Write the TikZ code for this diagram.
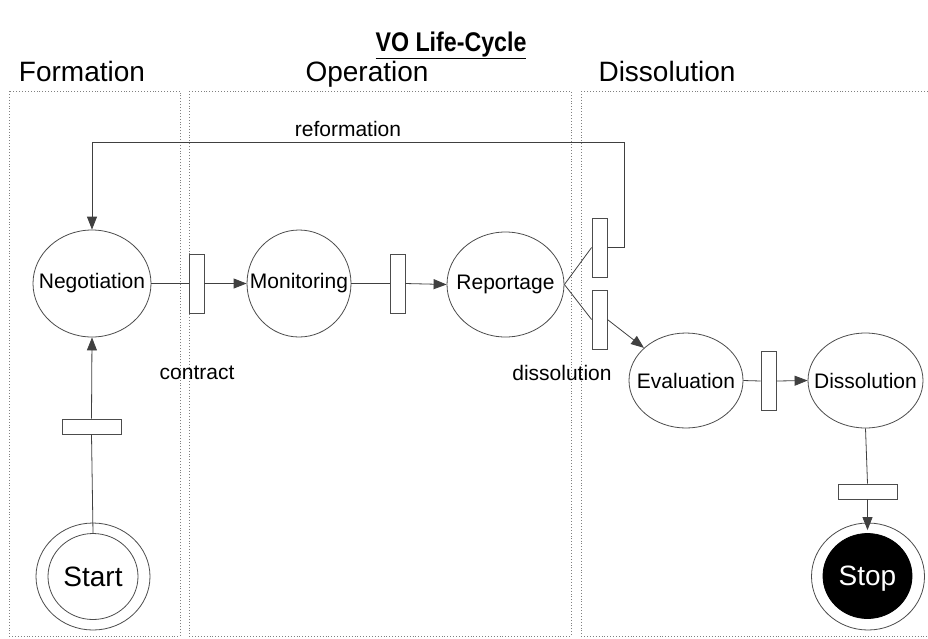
\documentclass[tikz,border=0pt]{standalone}
\usepackage{fontspec}
\setmainfont{Liberation Sans}
\usetikzlibrary{shapes.geometric,arrows.meta}

\begin{document}
\begin{tikzpicture}[x=1pt,y=-1pt,
  lane/.style={draw=black!50, dotted, line width=0.9pt},
  state/.style={ellipse, draw=black!70, line width=0.8pt, inner sep=0pt, fill=white},
  bar/.style={rectangle, draw=black!70, line width=0.8pt, fill=white, inner sep=0pt},
  vbar/.style={bar, minimum width=15pt, minimum height=59pt},
  hbar/.style={bar, minimum width=59pt, minimum height=15pt},
  link/.style={draw=black!75, line width=0.8pt},
  flow/.style={link, -{Triangle[length=13pt,width=10pt]}},
  txt/.style={font=\fontsize{21}{24}\selectfont, inner sep=0pt},
  head/.style={font=\fontsize{28}{32}\selectfont, inner sep=0pt, anchor=base},
  big/.style={font=\fontsize{28}{32}\selectfont}
]
\useasboundingbox (0,0) rectangle (928,638);

% swimlanes
\draw[lane] (9,91) rectangle (180,636);
\draw[lane] (189,91) rectangle (571,636);
\draw[lane] (581,91) rectangle (940,636);

% title and lane headings
\node[inner sep=0pt, anchor=base, xscale=0.86, font=\bfseries\fontsize{27}{30}\selectfont] (title) at (451,51) {\underline{VO Life-Cycle}};
\node[head] (hform) at (82,81) {Formation};
\node[head] (hoper) at (367,81) {Operation};
\node[head] (hdiss) at (667,81) {Dissolution};

% states
\node[state, minimum width=118pt, minimum height=107pt, label={[txt]center:Negotiation}] (neg) at (92,283.5) {};
\node[state, minimum width=104pt, minimum height=107pt, label={[txt]center:Monitoring}] (mon) at (299,283.5) {};
\node[state, minimum width=117pt, minimum height=105pt, label={[txt]center:Reportage}] (rep) at (505.5,284.5) {};
\node[state, minimum width=114pt, minimum height=95pt, label={[txt]center:Evaluation}] (eval) at (686,380.5) {};
\node[state, minimum width=115pt, minimum height=95pt, label={[txt]center:Dissolution}] (diss) at (865.5,380.5) {};

% start and stop
\node[state, minimum width=114pt, minimum height=107pt] (startout) at (93,576.5) {};
\node[state, minimum width=90pt, minimum height=86pt, label={[big]center:Start}] (startin) at (93,576.5) {};
\node[state, minimum width=113pt, minimum height=107pt] (stopout) at (868,576.5) {};
\node[state, fill=black, draw=black, minimum width=89pt, minimum height=85pt,
      label={[big, text=white, yshift=-3pt]center:Stop}] (stopin) at (867.5,576) {};

% transitions
\node[hbar] (tstart) at (91.5,426.5) {};
\node[vbar] (tcontract) at (196.5,283.5) {};
\node[vbar] (tmon) at (397.5,283.5) {};
\node[vbar] (tref) at (599.5,247.5) {};
\node[vbar] (tdis) at (599.5,319.5) {};
\node[vbar] (teval) at (768.5,381) {};
\node[hbar] (tstop) at (867.5,491.5) {};

% connectors
\draw[link] (startin.north) -- (tstart.south);
\draw[flow] (tstart.north) -- (neg.south);
\draw[link] (neg.east) -- (tcontract.west);
\draw[flow] (tcontract.east) -- (mon.west);
\draw[link] (mon.east) -- (tmon.west);
\draw[flow] (tmon.east) -- (rep.west);
\draw[link] (rep.east) -- (tref.west);
\draw[link] (rep.east) -- (tdis.west);
\coordinate (rfcorner) at (624,142);
\draw[flow] (tref.east) -| (rfcorner) -| (neg.north);
\draw[flow] (tdis.east) -- (eval);
\draw[link] (eval.east) -- (teval.west);
\draw[flow] (teval.east) -- (diss.west);
\draw[link] (diss.south) -- (tstop.north);
\draw[flow, shorten >=3pt] (tstop.south) -- (stopin.north);

% connector labels
\node[txt] (lref) at (348,129) {reformation};
\node[txt] (lcon) at (197,373) {contract};
\node[txt] (ldis) at (562,373) {dissolution};
\end{tikzpicture}
\end{document}
